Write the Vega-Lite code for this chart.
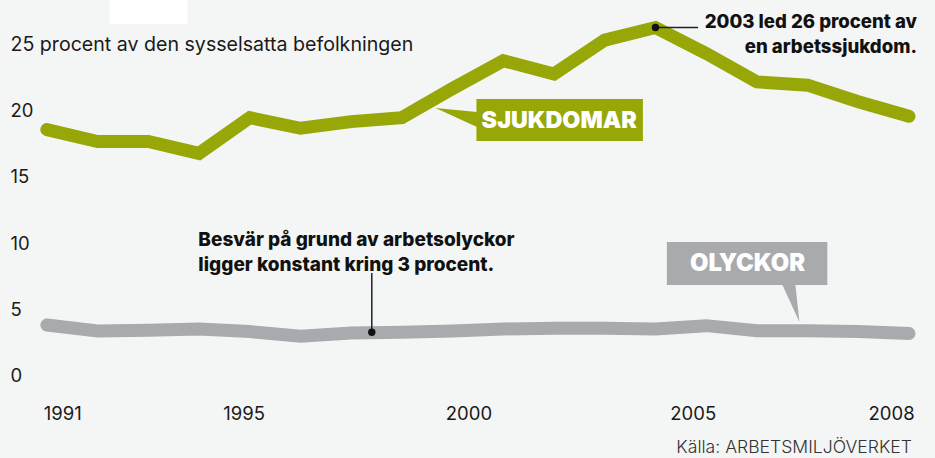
{
  "$schema": "https://vega.github.io/schema/vega-lite/v6.json",
  "width": 935,
  "height": 458,
  "autosize": {"type": "fit", "contains": "padding"},
  "padding": 0,
  "background": "#f4f6f5",
  "config": {"view": {"stroke": null}, "font": "Inter"},
  "datasets": {
    "series": [
      {"year": 1991, "value": 18.3, "serie": "Sjukdomar"},
      {"year": 1992, "value": 17.4, "serie": "Sjukdomar"},
      {"year": 1993, "value": 17.4, "serie": "Sjukdomar"},
      {"year": 1994, "value": 16.5, "serie": "Sjukdomar"},
      {"year": 1995, "value": 19.2, "serie": "Sjukdomar"},
      {"year": 1996, "value": 18.4, "serie": "Sjukdomar"},
      {"year": 1997, "value": 18.9, "serie": "Sjukdomar"},
      {"year": 1998, "value": 19.2, "serie": "Sjukdomar"},
      {"year": 1999, "value": 21.4, "serie": "Sjukdomar"},
      {"year": 2000, "value": 23.5, "serie": "Sjukdomar"},
      {"year": 2001, "value": 22.5, "serie": "Sjukdomar"},
      {"year": 2002, "value": 25.05, "serie": "Sjukdomar"},
      {"year": 2003, "value": 26.0, "serie": "Sjukdomar"},
      {"year": 2004, "value": 24.05, "serie": "Sjukdomar"},
      {"year": 2005, "value": 21.9, "serie": "Sjukdomar"},
      {"year": 2006, "value": 21.65, "serie": "Sjukdomar"},
      {"year": 2007, "value": 20.4, "serie": "Sjukdomar"},
      {"year": 2008, "value": 19.3, "serie": "Sjukdomar"},
      {"year": 1991, "value": 3.55, "serie": "Olyckor"},
      {"year": 1992, "value": 3.1, "serie": "Olyckor"},
      {"year": 1993, "value": 3.15, "serie": "Olyckor"},
      {"year": 1994, "value": 3.25, "serie": "Olyckor"},
      {"year": 1995, "value": 3.05, "serie": "Olyckor"},
      {"year": 1996, "value": 2.7, "serie": "Olyckor"},
      {"year": 1997, "value": 2.95, "serie": "Olyckor"},
      {"year": 1998, "value": 3.0, "serie": "Olyckor"},
      {"year": 1999, "value": 3.1, "serie": "Olyckor"},
      {"year": 2000, "value": 3.25, "serie": "Olyckor"},
      {"year": 2001, "value": 3.3, "serie": "Olyckor"},
      {"year": 2002, "value": 3.3, "serie": "Olyckor"},
      {"year": 2003, "value": 3.25, "serie": "Olyckor"},
      {"year": 2004, "value": 3.5, "serie": "Olyckor"},
      {"year": 2005, "value": 3.12, "serie": "Olyckor"},
      {"year": 2006, "value": 3.12, "serie": "Olyckor"},
      {"year": 2007, "value": 3.05, "serie": "Olyckor"},
      {"year": 2008, "value": 2.9, "serie": "Olyckor"}
    ],
    "pointerSjuk": [
      {"year": 1998.665, "top": 19.92, "bottom": 19.92},
      {"year": 1999.48, "top": 19.62, "bottom": 18.49}
    ],
    "pointerOly": [
      {"value": 6.57, "left": 2005.504, "right": 2005.76},
      {"value": 3.77, "left": 2005.839, "right": 2005.839}
    ]
  },
  "layer": [
    {
      "data": {"values": [{}]},
      "mark": {"type": "rect", "color": "#ffffff"},
      "encoding": {
        "x": {"datum": 1992.238, "type": "quantitative", "scale": {"domain": [1990.076, 2008.453], "nice": false, "zero": false}},
        "x2": {"datum": 1993.771},
        "y": {"datum": 28.08, "type": "quantitative", "scale": {"domain": [-6.49, 28.08], "nice": false, "zero": false}},
        "y2": {"datum": 26.26}
      }
    },
    {
      "data": {"name": "series"},
      "mark": {"type": "line", "strokeWidth": 13, "strokeCap": "round", "strokeJoin": "miter"},
      "encoding": {
        "x": {
          "field": "year", "type": "quantitative",
          "axis": {
            "orient": "bottom", "values": [1991.304, 1994.881, 1999.313, 2003.736, 2007.647],
            "labelExpr": "datum.value < 1993 ? '1991' : datum.value < 1997 ? '1995' : datum.value < 2002 ? '2000' : datum.value < 2005 ? '2005' : '2008'",
            "domain": false, "ticks": false, "tickSize": 0, "grid": false, "title": null,
            "offset": -44.5, "labelPadding": 0, "labelBaseline": "middle", "labelAlign": "center",
            "labelFlush": false, "labelOverlap": false,
            "labelFont": "Inter", "labelFontSize": 18.5, "labelColor": "#1a1a1a"
          }
        },
        "y": {
          "field": "value", "type": "quantitative",
          "axis": {
            "orient": "left", "values": [0, 5, 10, 15, 20, 25],
            "labelExpr": "datum.value == 25 ? '25 procent av den sysselsatta befolkningen' : datum.label",
            "domain": false, "ticks": false, "tickSize": 0, "grid": false, "title": null,
            "offset": -10, "labelPadding": 0, "labelAlign": "left", "labelBaseline": "middle",
            "labelOffset": 3.5, "labelLimit": 0, "labelOverlap": false, "labelFlush": false,
            "labelFont": "Inter",
            "labelFontSize": {"condition": {"test": "datum.value == 25", "value": 19.6}, "value": 18.5},
            "labelColor": "#1a1a1a"
          }
        },
        "color": {
          "field": "serie", "type": "nominal", "legend": null,
          "scale": {"domain": ["Sjukdomar", "Olyckor"], "range": ["#97a708", "#a9aaad"]}
        }
      }
    },
    {
      "data": {"name": "pointerSjuk"},
      "mark": {"type": "area", "color": "#97a708", "orient": "vertical"},
      "encoding": {
        "x": {"field": "year", "type": "quantitative"},
        "y": {"field": "top", "type": "quantitative"},
        "y2": {"field": "bottom"}
      }
    },
    {
      "data": {"values": [{}]},
      "mark": {"type": "rect", "color": "#97a708"},
      "encoding": {
        "x": {"datum": 1999.47, "type": "quantitative"},
        "x2": {"datum": 2002.753},
        "y": {"datum": 20.6, "type": "quantitative"},
        "y2": {"datum": 17.43}
      }
    },
    {
      "data": {"values": [{}]},
      "mark": {"type": "text", "text": "SJUKDOMAR", "color": "#ffffff", "font": "Inter", "fontWeight": 900, "fontSize": 23.3, "align": "center", "baseline": "middle"},
      "encoding": {
        "x": {"datum": 2001.102, "type": "quantitative"},
        "y": {"datum": 18.95, "type": "quantitative"}
      }
    },
    {
      "data": {"name": "pointerOly"},
      "mark": {"type": "area", "color": "#a9aaad", "orient": "horizontal"},
      "encoding": {
        "y": {"field": "value", "type": "quantitative"},
        "x": {"field": "left", "type": "quantitative"},
        "x2": {"field": "right"}
      }
    },
    {
      "data": {"values": [{}]},
      "mark": {"type": "rect", "color": "#a9aaad"},
      "encoding": {
        "x": {"datum": 2003.225, "type": "quantitative"},
        "x2": {"datum": 2006.389},
        "y": {"datum": 9.81, "type": "quantitative"},
        "y2": {"datum": 6.57}
      }
    },
    {
      "data": {"values": [{}]},
      "mark": {"type": "text", "text": "OLYCKOR", "color": "#ffffff", "font": "Inter", "fontWeight": 900, "fontSize": 23.8, "align": "center", "baseline": "middle"},
      "encoding": {
        "x": {"datum": 2004.817, "type": "quantitative"},
        "y": {"datum": 8.16, "type": "quantitative"}
      }
    },
    {
      "data": {"values": [{}]},
      "mark": {"type": "rule", "color": "#222222", "strokeWidth": 1.5},
      "encoding": {
        "x": {"datum": 2003, "type": "quantitative"},
        "x2": {"datum": 2003.84},
        "y": {"datum": 26.0, "type": "quantitative"}
      }
    },
    {
      "data": {"values": [{}]},
      "mark": {"type": "point", "filled": true, "color": "#111111", "size": 55, "opacity": 1},
      "encoding": {
        "x": {"datum": 2003, "type": "quantitative"},
        "y": {"datum": 26.0, "type": "quantitative"}
      }
    },
    {
      "data": {"values": [{}]},
      "mark": {"type": "text", "text": ["2003 led 26 procent av", "en arbetssjukdom."], "lineHeight": 25, "color": "#111111", "font": "Inter", "fontWeight": 800, "fontSize": 18.6, "align": "right", "baseline": "alphabetic"},
      "encoding": {
        "x": {"datum": 2008.158, "type": "quantitative"},
        "y": {"datum": 25.96, "type": "quantitative"}
      }
    },
    {
      "data": {"values": [{}]},
      "mark": {"type": "rule", "color": "#222222", "strokeWidth": 1.5},
      "encoding": {
        "x": {"datum": 1997.407, "type": "quantitative"},
        "y": {"datum": 7.47, "type": "quantitative"},
        "y2": {"datum": 3.0}
      }
    },
    {
      "data": {"values": [{}]},
      "mark": {"type": "point", "filled": true, "color": "#111111", "size": 55, "opacity": 1},
      "encoding": {
        "x": {"datum": 1997.407, "type": "quantitative"},
        "y": {"datum": 3.0, "type": "quantitative"}
      }
    },
    {
      "data": {"values": [{}]},
      "mark": {"type": "text", "text": ["Besvär på grund av arbetsolyckor", "ligger konstant kring 3 procent."], "lineHeight": 25, "color": "#111111", "font": "Inter", "fontWeight": 800, "fontSize": 19, "align": "left", "baseline": "alphabetic"},
      "encoding": {
        "x": {"datum": 1993.987, "type": "quantitative"},
        "y": {"datum": 9.51, "type": "quantitative"}
      }
    },
    {
      "data": {"values": [{}]},
      "mark": {"type": "text", "text": "Källa: ARBETSMILJÖVERKET", "color": "#333333", "font": "Inter", "fontWeight": 300, "fontSize": 17.6, "align": "right", "baseline": "middle"},
      "encoding": {
        "x": {"datum": 2008.059, "type": "quantitative"},
        "y": {"datum": -5.74, "type": "quantitative"}
      }
    }
  ]
}
